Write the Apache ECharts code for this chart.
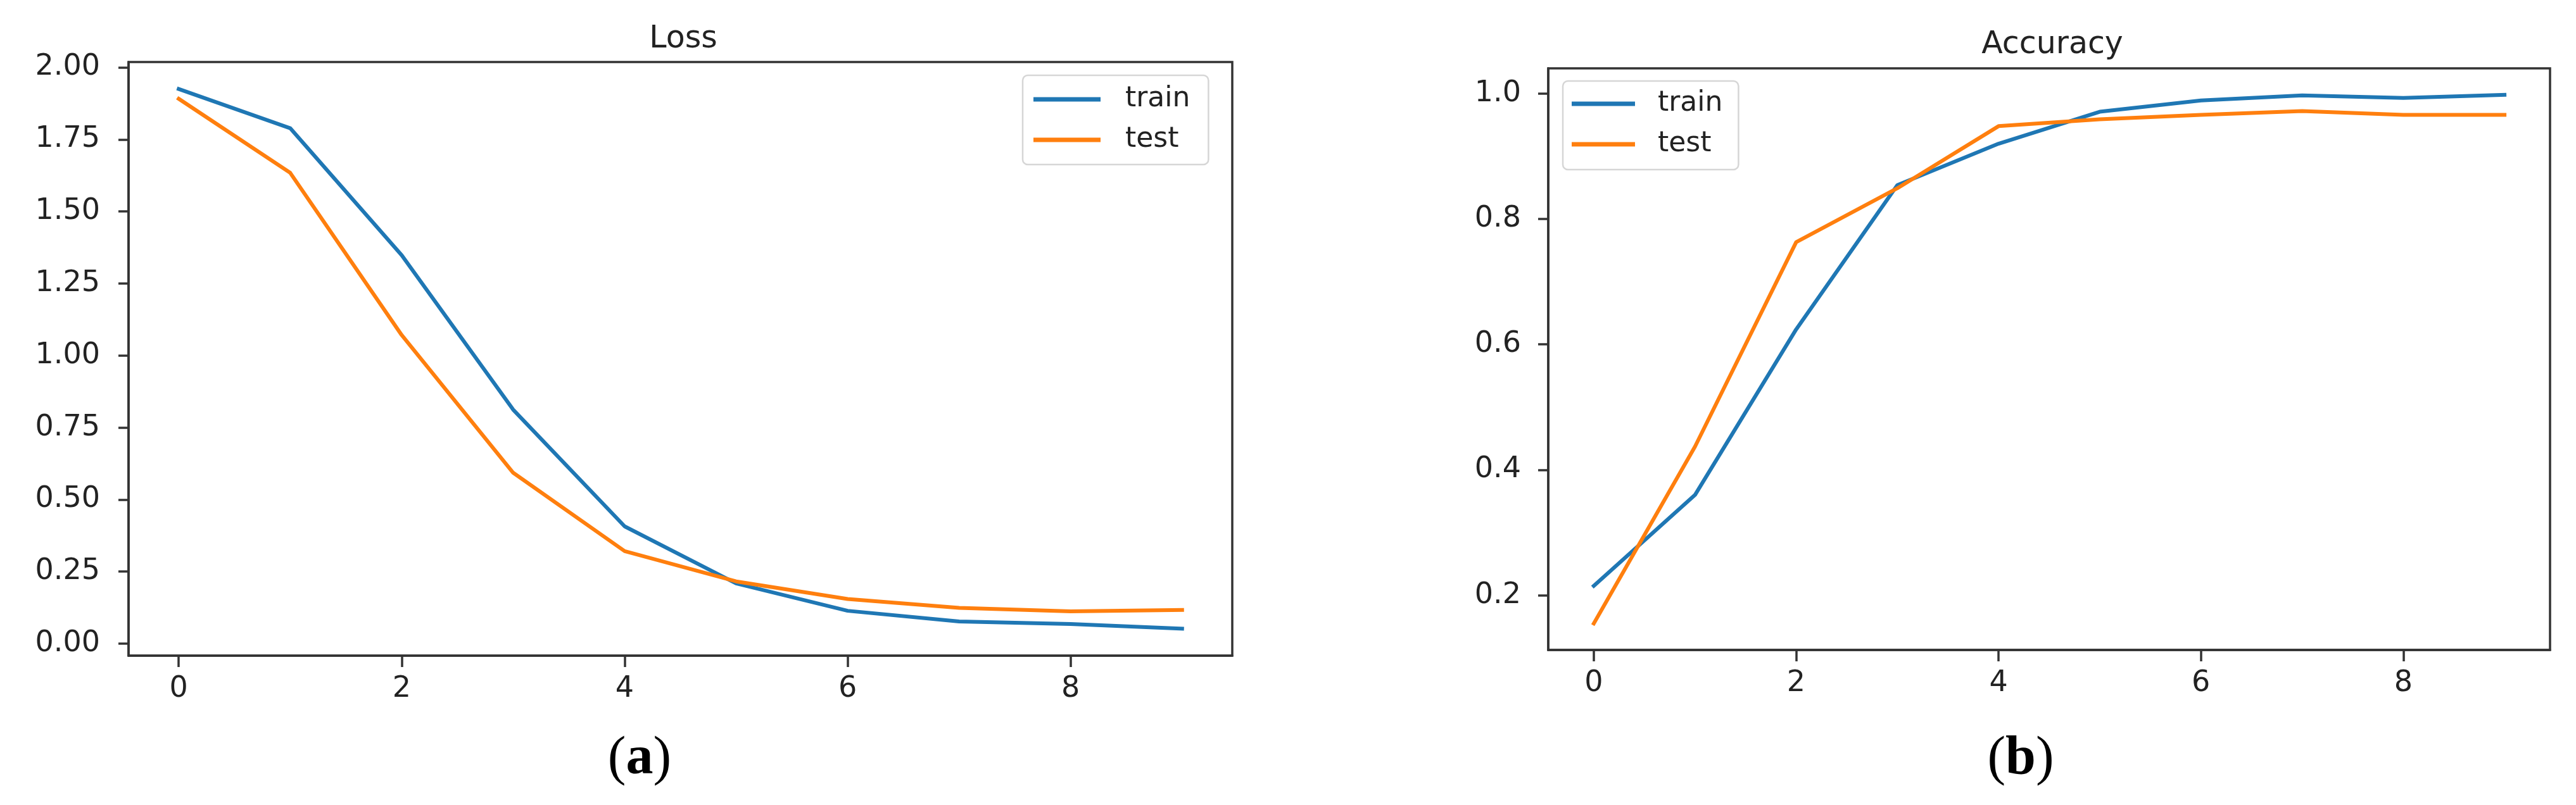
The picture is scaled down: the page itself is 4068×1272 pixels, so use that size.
<!DOCTYPE html>
<html>
<head>
<meta charset="utf-8">
<script src="https://cdn.jsdelivr.net/npm/echarts@6/dist/echarts.min.js"></script>
<style>
html,body{margin:0;padding:0;background:#fff;}
#chart{width:4068px;height:1272px;}
</style>
</head>
<body>
<div id="chart"></div>
<script>
// ---- data ----
const epochs = [0, 1, 2, 3, 4, 5, 6, 7, 8, 9];
const lossTrain = [1.925, 1.789, 1.348, 0.812, 0.407, 0.209, 0.114, 0.077, 0.068, 0.052];
const lossTest  = [1.891, 1.634, 1.071, 0.593, 0.321, 0.216, 0.155, 0.124, 0.112, 0.117];
const accTrain  = [0.215, 0.360, 0.624, 0.854, 0.920, 0.971, 0.989, 0.997, 0.993, 0.998];
const accTest   = [0.155, 0.437, 0.763, 0.849, 0.948, 0.959, 0.966, 0.972, 0.966, 0.966];
const xTicks = [0, 2, 4, 6, 8];
const lossTicks = [0, 0.25, 0.5, 0.75, 1.0, 1.25, 1.5, 1.75, 2.0];
const accTicks = [0.2, 0.4, 0.6, 0.8, 1.0];
const seriesNames = ['train', 'test'];
const titles = ['Loss', 'Accuracy'];
const captions = ['a', 'b'];

const BLUE = '#1f77b4', ORANGE = '#ff7f0e';
const FRAME = '#333333';
const TICKFONT = 46;

function pairs(ys) { return epochs.map((x, i) => [x, ys[i]]); }
function mplRange(arrs) {
  const all = [].concat(...arrs);
  const lo = Math.min(...all), hi = Math.max(...all);
  const m = (hi - lo) * 0.05;
  return [lo - m, hi + m];
}
const xr = mplRange([epochs]);
const lr = mplRange([lossTrain, lossTest]);
const ar = mplRange([accTrain, accTest]);

const grids = [
  {left: 203, top: 98, width: 1743, height: 938},
  {left: 2445, top: 108, width: 1582, height: 919}
];

function xAxisCfg(gi, margin) {
  return {
    type: 'value', gridIndex: gi, min: xr[0], max: xr[1],
    splitLine: {show: false},
    axisLine: {show: true, onZero: false, lineStyle: {color: FRAME, width: 3.5}},
    axisTick: {show: true, customValues: xTicks, length: 18, lineStyle: {color: FRAME, width: 3.5}},
    axisLabel: {show: true, customValues: xTicks, margin: margin, fontSize: TICKFONT, lineHeight: TICKFONT,
      color: '#222', fontFamily: 'DejaVu Sans'}
  };
}
function yAxisCfg(gi, rng, ticks, dec, margin) {
  return {
    type: 'value', gridIndex: gi, min: rng[0], max: rng[1],
    splitLine: {show: false},
    axisLine: {show: true, onZero: false, lineStyle: {color: FRAME, width: 3.5}},
    axisTick: {show: true, customValues: ticks, length: 16, lineStyle: {color: FRAME, width: 3.5}},
    axisLabel: {show: true, customValues: ticks, margin: margin, fontSize: TICKFONT,
      color: '#222', fontFamily: 'DejaVu Sans', formatter: v => v.toFixed(dec)}
  };
}

function lineSeries(name, data, color, xi, yi) {
  return {
    name: name, type: 'line', xAxisIndex: xi, yAxisIndex: yi,
    data: pairs(data), showSymbol: false, symbol: 'none', silent: true,
    lineStyle: {color: color, width: 6, cap: 'square', join: 'round'},
    itemStyle: {color: color}, animation: false
  };
}

function legendCfg(left, top, itemWidth, textPad, pad) {
  return {
    data: seriesNames, orient: 'vertical', left: left, top: top,
    icon: 'rect', itemWidth: itemWidth, itemHeight: 7, itemGap: 20,
    padding: pad, backgroundColor: '#fff', borderColor: '#d6d6d6', borderWidth: 2.5, borderRadius: 8,
    selectedMode: false,
    textStyle: {fontSize: 44, color: '#222', fontFamily: 'DejaVu Sans', padding: [0, 0, 0, textPad], lineHeight: 44}
  };
}

function captionCfg(letter, left) {
  return {
    text: '{p|(}{b|' + letter + '}{p|)}', left: left, top: 1152, textAlign: 'center',
    textStyle: {fontWeight: 'normal', fontSize: 86,
      rich: {p: {fontSize: 86, fontFamily: 'Liberation Serif', fontWeight: 'normal', color: '#000'},
             b: {fontSize: 86, fontFamily: 'Liberation Serif', fontWeight: 'bold', color: '#000'}}}
  };
}

const option = {
  backgroundColor: '#fff',
  animation: false,
  grid: grids.map(g => Object.assign({show: true, borderColor: FRAME, borderWidth: 3.5, backgroundColor: 'transparent'}, g)),
  title: [
    {text: titles[0], left: 1074, top: 33, textAlign: 'center',
      textStyle: {fontSize: 49, fontWeight: 'normal', color: '#222', fontFamily: 'DejaVu Sans', lineHeight: 49}},
    {text: titles[1], left: 3236, top: 42, textAlign: 'center',
      textStyle: {fontSize: 49, fontWeight: 'normal', color: '#222', fontFamily: 'DejaVu Sans', lineHeight: 49}},
    captionCfg(captions[0], 1005),
    captionCfg(captions[1], 3186)
  ],
  legend: [
    legendCfg(1615, 119, 106, 34, [16, 29, 17, 17]),
    legendCfg(2468, 128, 100, 31, [14, 25, 18, 14])
  ],
  xAxis: [xAxisCfg(0, 30), xAxisCfg(1, 30)],
  yAxis: [yAxisCfg(0, lr, lossTicks, 2, 45), yAxisCfg(1, ar, accTicks, 1, 43)],
  series: [
    lineSeries(seriesNames[0], lossTrain, BLUE, 0, 0),
    lineSeries(seriesNames[1], lossTest, ORANGE, 0, 0),
    lineSeries(seriesNames[0], accTrain, BLUE, 1, 1),
    lineSeries(seriesNames[1], accTest, ORANGE, 1, 1)
  ]
};

const chart = echarts.init(document.getElementById('chart'), null, {renderer: 'canvas'});
chart.setOption(option);
</script>
</body>
</html>
